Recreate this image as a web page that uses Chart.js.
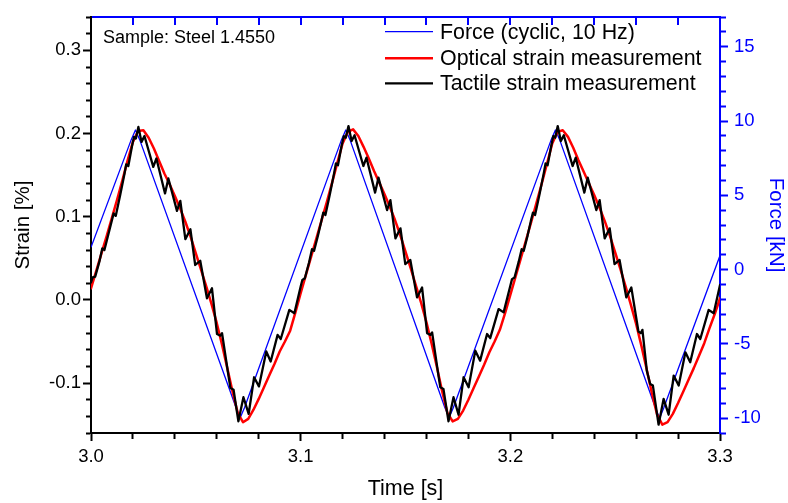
<!DOCTYPE html>
<html>
<head>
<meta charset="utf-8">
<script src="https://cdn.jsdelivr.net/npm/chart.js@4.4.1/dist/chart.umd.min.js"></script>
<style>
html,body{margin:0;padding:0;background:#ffffff;}
canvas{display:block;}
</style>
</head>
<body>
<canvas id="c" width="788" height="503"></canvas>
<script>
// ---------------- data ----------------
const sampleText = 'Sample: Steel 1.4550';

// Force (blue, right axis, kN)
const forceTime = [3.0000, 3.0192, 3.0212, 3.0232, 3.0692, 3.0712, 3.0732,
  3.1195, 3.1215, 3.1235, 3.1688, 3.1708, 3.1728,
  3.2195, 3.2215, 3.2235, 3.2692, 3.2712, 3.2732, 3.3000];
const forceKN = [1.5, 8.75, 9.4, 8.75, -9.3, -9.95, -9.3,
  8.75, 9.4, 8.75, -9.3, -9.95, -9.3,
  8.75, 9.4, 8.75, -9.3, -10.0, -9.3, 0.95];

// Optical strain (red, left axis, %)
const opticalTime = [
  3.0000, 3.0025, 3.0050, 3.0075, 3.0100, 3.0125, 3.0150, 3.0175, 3.0200, 3.0225,
  3.0250, 3.0275, 3.0300, 3.0325, 3.0350, 3.0375, 3.0400, 3.0425, 3.0450, 3.0475,
  3.0500, 3.0525, 3.0550, 3.0575, 3.0600, 3.0625, 3.0650, 3.0675, 3.0700, 3.0725,
  3.0750, 3.0775, 3.0800, 3.0825, 3.0850, 3.0875, 3.0900, 3.0925, 3.0950, 3.0975,
  3.1000, 3.1025, 3.1050, 3.1075, 3.1100, 3.1125, 3.1150, 3.1175, 3.1200, 3.1225,
  3.1250, 3.1275, 3.1300, 3.1325, 3.1350, 3.1375, 3.1400, 3.1425, 3.1450, 3.1475,
  3.1500, 3.1525, 3.1550, 3.1575, 3.1600, 3.1625, 3.1650, 3.1675, 3.1700, 3.1725,
  3.1750, 3.1775, 3.1800, 3.1825, 3.1850, 3.1875, 3.1900, 3.1925, 3.1950, 3.1975,
  3.2000, 3.2025, 3.2050, 3.2075, 3.2100, 3.2125, 3.2150, 3.2175, 3.2200, 3.2225,
  3.2250, 3.2275, 3.2300, 3.2325, 3.2350, 3.2375, 3.2400, 3.2425, 3.2450, 3.2475,
  3.2500, 3.2525, 3.2550, 3.2575, 3.2600, 3.2625, 3.2650, 3.2675, 3.2700, 3.2725,
  3.2750, 3.2775, 3.2800, 3.2825, 3.2850, 3.2875, 3.2900, 3.2925, 3.2950, 3.2975,
  3.3000];
const opticalStrain = [
  0.014, 0.035, 0.056, 0.077, 0.099, 0.121, 0.144, 0.168, 0.190, 0.203,
  0.204, 0.195, 0.182, 0.167, 0.152, 0.139, 0.125, 0.110, 0.094, 0.076,
  0.056, 0.036, 0.016, -0.005, -0.028, -0.054, -0.082, -0.110, -0.136, -0.147,
  -0.143, -0.132, -0.119, -0.105, -0.091, -0.077, -0.062, -0.050, -0.037, -0.015,
  0.008, 0.030, 0.052, 0.074, 0.096, 0.118, 0.141, 0.165, 0.188, 0.202,
  0.205, 0.197, 0.184, 0.170, 0.155, 0.141, 0.127, 0.112, 0.096, 0.078,
  0.058, 0.038, 0.017, -0.004, -0.027, -0.053, -0.081, -0.110, -0.136, -0.146,
  -0.143, -0.133, -0.120, -0.106, -0.092, -0.078, -0.063, -0.050, -0.036, -0.016,
  0.006, 0.028, 0.050, 0.072, 0.094, 0.117, 0.140, 0.164, 0.188, 0.202,
  0.204, 0.196, 0.183, 0.168, 0.154, 0.140, 0.126, 0.111, 0.095, 0.077,
  0.057, 0.037, 0.016, -0.006, -0.029, -0.055, -0.083, -0.112, -0.138, -0.150,
  -0.147, -0.137, -0.124, -0.110, -0.096, -0.082, -0.067, -0.052, -0.034, -0.017,
  0.002];

// Tactile strain (black, left axis, %)
const tactileTime = [
  3.0000, 3.0008, 3.0020, 3.0040, 3.0054, 3.0064, 3.0082, 3.0098, 3.0108, 3.0118,
  3.0140, 3.0160, 3.0168, 3.0178, 3.0195, 3.0205, 3.0214, 3.0226, 3.0241, 3.0255,
  3.0297, 3.0312, 3.0353, 3.0369, 3.0410, 3.0426, 3.0450, 3.0474, 3.0497, 3.0521,
  3.0553, 3.0577, 3.0601, 3.0617, 3.0625, 3.0655, 3.0665, 3.0680, 3.0703, 3.0727,
  3.0752, 3.0778, 3.0801, 3.0836, 3.0857, 3.0890, 3.0905, 3.0946, 3.0970,
  3.1000, 3.1008, 3.1020, 3.1040, 3.1054, 3.1064, 3.1082, 3.1098, 3.1108, 3.1118,
  3.1140, 3.1160, 3.1168, 3.1178, 3.1195, 3.1206, 3.1215, 3.1228, 3.1243, 3.1257,
  3.1299, 3.1314, 3.1355, 3.1371, 3.1412, 3.1428, 3.1452, 3.1476, 3.1499, 3.1523,
  3.1555, 3.1579, 3.1603, 3.1619, 3.1627, 3.1656, 3.1666, 3.1681, 3.1705, 3.1729,
  3.1753, 3.1777, 3.1801, 3.1833, 3.1856, 3.1889, 3.1904, 3.1944, 3.1968,
  3.2000, 3.2008, 3.2020, 3.2040, 3.2054, 3.2064, 3.2082, 3.2098, 3.2108, 3.2118,
  3.2140, 3.2160, 3.2168, 3.2178, 3.2195, 3.2205, 3.2214, 3.2226, 3.2241, 3.2255,
  3.2297, 3.2312, 3.2353, 3.2369, 3.2410, 3.2426, 3.2450, 3.2474, 3.2497, 3.2521,
  3.2553, 3.2577, 3.2611, 3.2622, 3.2630, 3.2651, 3.2667, 3.2680, 3.2707, 3.2731,
  3.2755, 3.2779, 3.2803, 3.2835, 3.2858, 3.2890, 3.2906, 3.2946, 3.2970, 3.3000];
const tactileStrain = [
  0.021, 0.027, 0.028, 0.046, 0.062, 0.060, 0.078, 0.094, 0.104, 0.101,
  0.127, 0.152, 0.163, 0.161, 0.184, 0.196, 0.194, 0.208, 0.190, 0.197,
  0.160, 0.170, 0.128, 0.146, 0.107, 0.119, 0.073, 0.085, 0.042, 0.047,
  0.002, 0.014, -0.041, -0.043, -0.040, -0.090, -0.106, -0.108, -0.146, -0.117,
  -0.137, -0.093, -0.104, -0.062, -0.074, -0.042, -0.047, -0.012, -0.016,
  0.016, 0.024, 0.026, 0.045, 0.061, 0.059, 0.077, 0.094, 0.105, 0.102,
  0.128, 0.153, 0.164, 0.162, 0.185, 0.197, 0.195, 0.209, 0.191, 0.198,
  0.161, 0.171, 0.129, 0.147, 0.108, 0.120, 0.074, 0.086, 0.043, 0.048,
  0.003, 0.015, -0.040, -0.042, -0.039, -0.089, -0.105, -0.107, -0.146, -0.117,
  -0.138, -0.093, -0.105, -0.061, -0.073, -0.041, -0.046, -0.011, -0.015,
  0.017, 0.025, 0.027, 0.046, 0.061, 0.059, 0.077, 0.095, 0.105, 0.102,
  0.128, 0.153, 0.164, 0.162, 0.185, 0.197, 0.195, 0.209, 0.191, 0.198,
  0.161, 0.171, 0.129, 0.147, 0.108, 0.120, 0.074, 0.086, 0.043, 0.048,
  0.003, 0.015, -0.038, -0.040, -0.036, -0.085, -0.101, -0.103, -0.150, -0.119,
  -0.138, -0.091, -0.103, -0.063, -0.075, -0.041, -0.047, -0.012, -0.016, 0.018];

// Tick values and labels
const timeMajorTicks = [3.0, 3.1, 3.2, 3.3];
const timeTickLabels = ['3.0', '3.1', '3.2', '3.3'];
const strainMajorTicks = [-0.1, 0.0, 0.1, 0.2, 0.3];
const strainTickLabels = ['-0.1', '0.0', '0.1', '0.2', '0.3'];
const forceMajorTicks = [-10, -5, 0, 5, 10, 15];
const forceTickLabels = ['-10', '-5', '0', '5', '10', '15'];

// ---------------- chart ----------------
const FONT = '"Liberation Sans", Arial, Helvetica, sans-serif';
const BLUE = '#0000ff';
const RED = '#ff0000';
const BLACK = '#000000';

function pairs(xs, ys) { return xs.map((x, i) => ({ x: x, y: ys[i] })); }
function majorIndex(v, majors) { return majors.findIndex(m => Math.abs(v - m) < 1e-6); }
function tickLabel(v, majors, labels) { const i = majorIndex(v, majors); return i >= 0 ? labels[i] : ''; }
function isMajorCtx(c, majors) { return c && c.tick ? majorIndex(c.tick.value, majors) >= 0 : true; }

const legendOrder = [2, 1, 0]; // Force, Optical, Tactile
const legendLayout = { lineX1: 385, lineX2: 433, textX: 440, lineY: [31.7, 58.3, 83.3], baseY: [38.5, 64.5, 90.2] };

const overlay = {
  id: 'overlay',
  afterDraw(chart) {
    const ctx = chart.ctx;
    ctx.save();
    ctx.fillStyle = BLACK;
    ctx.textBaseline = 'alphabetic';
    ctx.textAlign = 'left';
    ctx.font = '18px ' + FONT;
    ctx.fillText(sampleText, 103, 42.5);
    ctx.font = '21.4px ' + FONT;
    legendOrder.forEach((di, row) => {
      const ds = chart.data.datasets[di];
      ctx.strokeStyle = ds.borderColor;
      ctx.lineWidth = ds.borderWidth;
      ctx.beginPath();
      ctx.moveTo(legendLayout.lineX1, legendLayout.lineY[row]);
      ctx.lineTo(legendLayout.lineX2, legendLayout.lineY[row]);
      ctx.stroke();
      ctx.fillStyle = BLACK;
      ctx.fillText(ds.label, legendLayout.textX, legendLayout.baseY[row]);
    });
    ctx.restore();
  }
};

new Chart(document.getElementById('c'), {
  type: 'line',
  data: {
    datasets: [
      { label: 'Tactile strain measurement', data: pairs(tactileTime, tactileStrain),
        borderColor: BLACK, borderWidth: 2.3, pointRadius: 0, tension: 0,
        borderJoinStyle: 'round', borderCapStyle: 'round', xAxisID: 'x', yAxisID: 'y' },
      { label: 'Optical strain measurement', data: pairs(opticalTime, opticalStrain),
        borderColor: RED, borderWidth: 2.5, pointRadius: 0, tension: 0,
        borderJoinStyle: 'round', borderCapStyle: 'round', xAxisID: 'x', yAxisID: 'y' },
      { label: 'Force (cyclic, 10 Hz)', data: pairs(forceTime, forceKN),
        borderColor: BLUE, borderWidth: 1.3, pointRadius: 0, tension: 0,
        borderJoinStyle: 'round', xAxisID: 'x', yAxisID: 'y2' }
    ]
  },
  options: {
    responsive: false,
    devicePixelRatio: 1,
    animation: false,
    events: [],
    layout: { padding: 0 },
    plugins: { legend: { display: false }, tooltip: { enabled: false } },
    scales: {
      x: {
        type: 'linear', position: 'bottom', min: 3.0, max: 3.3,
        afterFit: s => { s.height = 70; },
        ticks: { stepSize: 0.02, autoSkip: false, maxRotation: 0, minRotation: 0, padding: 5,
          color: BLACK, font: { family: FONT, size: 18.5 },
          callback: v => tickLabel(v, timeMajorTicks, timeTickLabels) },
        grid: { drawOnChartArea: false, drawTicks: true, tickLength: 8, tickWidth: 2, tickColor: BLACK,
          tickBorderDash: c => isMajorCtx(c, timeMajorTicks) ? [] : [5, 100] },
        border: { display: true, color: BLACK, width: 2 },
        title: { display: true, text: 'Time [s]', color: BLACK, font: { family: FONT, size: 21.5 },
          padding: { top: 0, bottom: 1 } }
      },
      x2: {
        type: 'linear', position: 'top', min: 3.0, max: 3.3,
        afterFit: s => { s.height = 11; },
        ticks: { display: false, stepSize: 0.02, autoSkip: false },
        grid: { drawOnChartArea: true, drawTicks: false, lineWidth: 2,
          color: c => (c.tick && (Math.abs(c.tick.value - 3.0) < 1e-6 || Math.abs(c.tick.value - 3.3) < 1e-6)) ? 'rgba(0,0,0,0)' : BLUE },
        border: { display: true, color: BLUE, width: 2, dash: [7, 2000] }
      },
      y: {
        type: 'linear', position: 'left', min: -0.16, max: 0.34,
        afterFit: s => { s.width = 91; },
        ticks: { stepSize: 0.02, autoSkip: false, padding: 2, color: BLACK,
          font: { family: FONT, size: 18.5 },
          callback: v => tickLabel(v, strainMajorTicks, strainTickLabels) },
        grid: { drawOnChartArea: false, drawTicks: true, tickLength: 8, tickWidth: 2, tickColor: BLACK,
          tickBorderDash: c => isMajorCtx(c, strainMajorTicks) ? [] : [0, 3, 5, 100] },
        border: { display: true, color: BLACK, width: 2 },
        title: { display: true, text: 'Strain [%]', color: BLACK, font: { family: FONT, size: 20.5 },
          padding: { top: 11, bottom: 0 } }
      },
      y2: {
        type: 'linear', position: 'right', min: -11, max: 17,
        afterFit: s => { s.width = 68; },
        ticks: { stepSize: 1, autoSkip: false, padding: 6, color: BLUE,
          font: { family: FONT, size: 18.5 },
          callback: v => tickLabel(v, forceMajorTicks, forceTickLabels) },
        grid: { drawOnChartArea: false, drawTicks: true, tickLength: 8, tickWidth: 2, tickColor: BLUE,
          tickBorderDash: c => isMajorCtx(c, forceMajorTicks) ? [] : [5, 100] },
        border: { display: true, color: BLUE, width: 2 },
        title: { display: true, text: 'Force [kN]', color: BLUE, font: { family: FONT, size: 20.5 },
          padding: { top: 0, bottom: 0 } }
      }
    }
  },
  plugins: [overlay]
});
</script>
</body>
</html>
